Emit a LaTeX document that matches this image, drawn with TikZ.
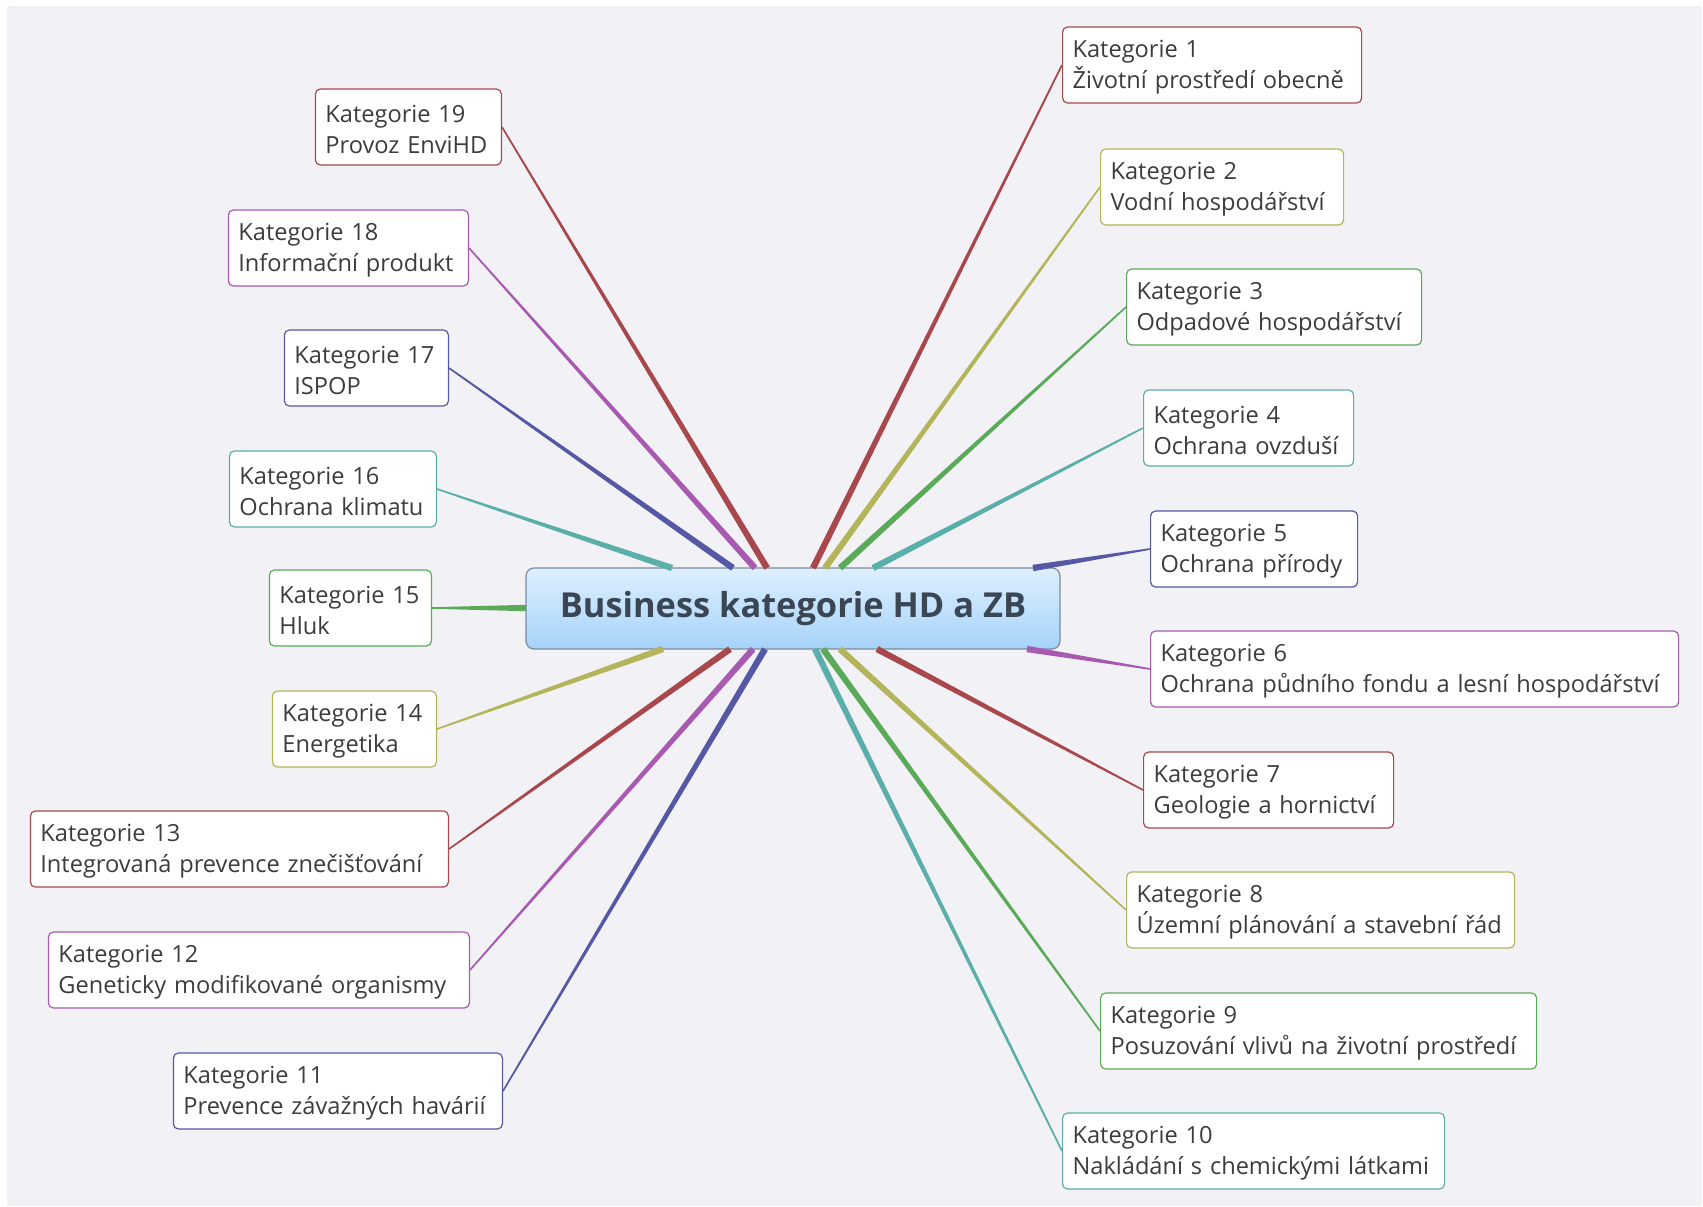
\documentclass[tikz,border=0pt]{standalone}
\usepackage{fontspec}
\setmainfont{Open Sans}
\usetikzlibrary{calc}
\definecolor{bgc}{HTML}{F2F2F6}
\definecolor{txt}{HTML}{3C3C3C}
\definecolor{ctxt}{HTML}{3A4654}
\definecolor{cRed}{HTML}{A8484C}
\definecolor{cOlive}{HTML}{B4B45A}
\definecolor{cGreen}{HTML}{5AAA5A}
\definecolor{cTeal}{HTML}{5AAFAA}
\definecolor{cBlue}{HTML}{5558A5}
\definecolor{cPurple}{HTML}{A85AB0}
\definecolor{ctop}{HTML}{DDEFFD}
\definecolor{cbot}{HTML}{A6D3FA}
\definecolor{cborder}{HTML}{7C8C9C}
\newcommand\taper[3]{%
  \fill[#1] ($(#2)!1.6pt!90:(#3)$) -- ($(#3)!0.4pt!-90:(#2)$) -- ($(#3)!0.4pt!90:(#2)$) -- ($(#2)!1.6pt!-90:(#3)$) -- cycle;}
\newcommand\kt[2]{\rule{0pt}{11pt}\mbox{Kategorie #1}\\\mbox{#2}}
\tikzset{
  catbox/.style={draw=#1, rounded corners=2.5pt, fill=white, line width=0.6pt,
    align=left, inner xsep=5pt, inner ysep=0pt, minimum height=38pt,
    font=\fontsize{11.8}{15.2}\selectfont, text=txt},
  central/.style={draw=cborder, rounded corners=4pt, top color=ctop, bottom color=cbot,
    line width=0.6pt, minimum width=267pt, minimum height=40.5pt,
    font=\fontsize{17.2}{20}\selectfont\bfseries, text=ctxt}
}
\begin{document}
\begin{tikzpicture}[x=0.5pt,y=-0.5pt]
\useasboundingbox (0,0) rectangle (1703,1206);
\fill[white] (0,0) rectangle (1703,1206);
\fill[bgc] (7,6) rectangle (1702,1206);

\node[central] (c) at (793,608.5) {Business kategorie HD a ZB};

% start coordinates on the central node
\coordinate (s1) at (813,568);
\coordinate (s2) at (825,568);
\coordinate (s3) at (840,568);
\coordinate (s4) at (873,568);
\coordinate (s5) at (1033,568);
\coordinate (s6) at (1027,649);
\coordinate (s7) at (877,649);
\coordinate (s8) at (840,649);
\coordinate (s9) at (823,649);
\coordinate (s10) at (815,649);
\coordinate (s11) at (765,649);
\coordinate (s12) at (753,649);
\coordinate (s13) at (730,649);
\coordinate (s14) at (663,649);
\coordinate (s15) at (526,608);
\coordinate (s16) at (672,568);
\coordinate (s17) at (733,568);
\coordinate (s18) at (755,568);
\coordinate (s19) at (767,568);

% right side
\node[catbox=cRed, text width=139.5pt, anchor=west] (k1) at (1062,65) {\kt{1}{Životní prostředí obecně}};
\node[catbox=cOlive, text width=111.5pt, anchor=west] (k2) at (1100,187) {\kt{2}{Vodní hospodářství}};
\node[catbox=cGreen, text width=137.5pt, anchor=west] (k3) at (1126,307) {\kt{3}{Odpadové hospodářství}};
\node[catbox=cTeal, text width=95pt, anchor=west] (k4) at (1143,428) {\kt{4}{Ochrana ovzduší}};
\node[catbox=cBlue, text width=93.5pt, anchor=west] (k5) at (1150,549) {\kt{5}{Ochrana přírody}};
\node[catbox=cPurple, text width=254pt, anchor=west] (k6) at (1150,669) {\kt{6}{Ochrana půdního fondu a lesní hospodářství}};
\node[catbox=cRed, text width=115pt, anchor=west] (k7) at (1143,790) {\kt{7}{Geologie a hornictví}};
\node[catbox=cOlive, text width=184pt, anchor=west] (k8) at (1126,910) {\kt{8}{Územní plánování a stavební řád}};
\node[catbox=cGreen, text width=208pt, anchor=west] (k9) at (1100,1031) {\kt{9}{Posuzování vlivů na životní prostředí}};
\node[catbox=cTeal, text width=181pt, anchor=west] (k10) at (1062,1151) {\kt{10}{Nakládání s chemickými látkami}};
% left side
\node[catbox=cBlue, text width=154.5pt, anchor=east] (k11) at (503,1091) {\kt{11}{Prevence závažných havárií}};
\node[catbox=cPurple, text width=200.5pt, anchor=east] (k12) at (470,970) {\kt{12}{Geneticky modifikované organismy}};
\node[catbox=cRed, text width=199pt, anchor=east] (k13) at (449,849) {\kt{13}{Integrovaná prevence znečišťování}};
\node[catbox=cOlive, text width=72pt, anchor=east] (k14) at (437,729) {\kt{14}{Energetika}};
\node[catbox=cGreen, text width=71pt, anchor=east] (k15) at (432,608) {\kt{15}{Hluk}};
\node[catbox=cTeal, text width=93.5pt, anchor=east] (k16) at (437,489) {\kt{16}{Ochrana klimatu}};
\node[catbox=cBlue, text width=72pt, anchor=east] (k17) at (449,368) {\kt{17}{ISPOP}};
\node[catbox=cPurple, text width=110pt, anchor=east] (k18) at (469,248) {\kt{18}{Informační produkt}};
\node[catbox=cRed, text width=83pt, anchor=east] (k19) at (502,127) {\kt{19}{Provoz EnviHD}};

% connectors
\taper{cRed}{s1}{k1.west}
\taper{cOlive}{s2}{k2.west}
\taper{cGreen}{s3}{k3.west}
\taper{cTeal}{s4}{k4.west}
\taper{cBlue}{s5}{k5.west}
\taper{cPurple}{s6}{k6.west}
\taper{cRed}{s7}{k7.west}
\taper{cOlive}{s8}{k8.west}
\taper{cGreen}{s9}{k9.west}
\taper{cTeal}{s10}{k10.west}
\taper{cBlue}{s11}{k11.east}
\taper{cPurple}{s12}{k12.east}
\taper{cRed}{s13}{k13.east}
\taper{cOlive}{s14}{k14.east}
\taper{cGreen}{s15}{k15.east}
\taper{cTeal}{s16}{k16.east}
\taper{cBlue}{s17}{k17.east}
\taper{cPurple}{s18}{k18.east}
\taper{cRed}{s19}{k19.east}
\end{tikzpicture}
\end{document}
